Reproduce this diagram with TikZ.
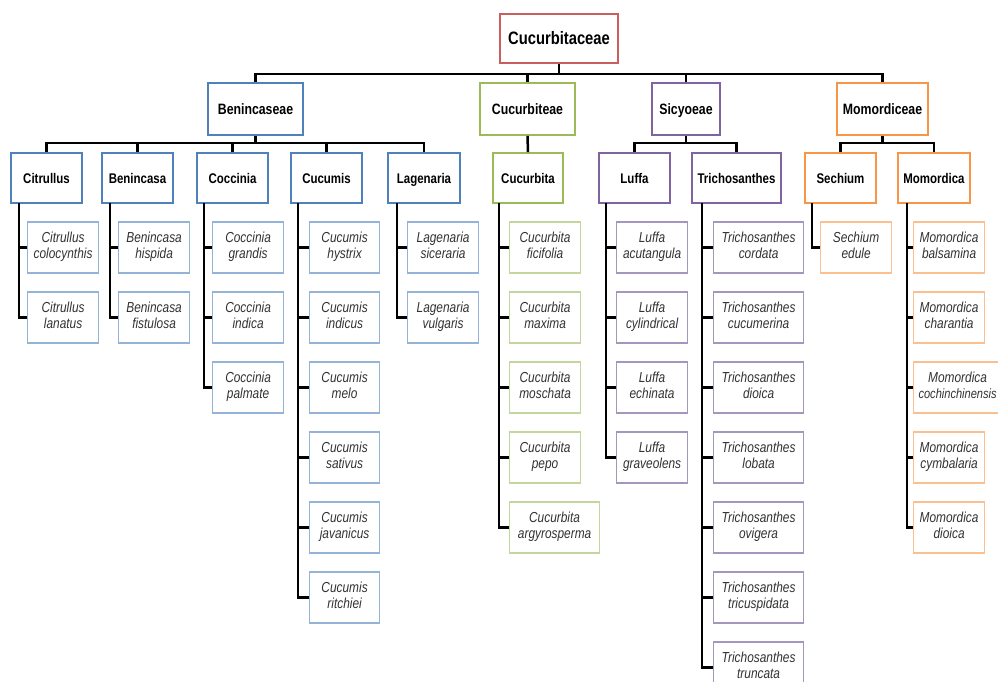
\documentclass[tikz,border=0pt]{standalone}
\usepackage{fontspec}
\setmainfont{Liberation Sans}[FakeStretch=0.82]
\definecolor{rootc}{RGB}{200,95,95}
\definecolor{bluec}{RGB}{79,129,189}
\definecolor{greenc}{RGB}{155,187,89}
\definecolor{purplec}{RGB}{128,100,162}
\definecolor{orangec}{RGB}{247,150,70}
\definecolor{bluel}{RGB}{149,179,215}
\definecolor{greenl}{RGB}{195,214,155}
\definecolor{purplel}{RGB}{165,150,190}
\definecolor{orangel}{RGB}{250,192,144}
\definecolor{sptext}{RGB}{50,50,50}
\tikzset{
  box/.style={draw, fill=white, inner sep=0pt, align=center, line width=1.8pt, text=black},
  rootbox/.style={box, draw=rootc, minimum width=118pt, minimum height=49pt, text height=13pt, text depth=0pt, font=\bfseries\fontsize{18}{20}\selectfont},
  tribe/.style={box, minimum height=52pt, text height=11pt, text depth=0pt, font=\bfseries\fontsize{15}{17}\selectfont},
  genus/.style={box, minimum height=50pt, minimum width=71pt, text height=10pt, text depth=0pt, font=\bfseries\fontsize{14}{16}\selectfont},
  sp/.style={draw, fill=white, inner sep=0pt, align=center, line width=1.2pt, minimum height=51pt, text=sptext, font=\itshape\fontsize{14.5}{16}\selectfont, anchor=west},
  conn/.style={draw=black, line width=2.5pt, line join=miter},
}
\newcommand{\spcolumn}[6]{% #1 id, #2 genus word, #3 left x, #4 spine coordinate, #5 border colour, #6 list name/width
  \foreach \nm/\w [count=\i] in {#6} {
    \node[sp, draw=#5, minimum width=\w pt] (#1-\i) at (#3, {247.5+70*(\i-1)}) {\strut#2\\\strut\nm};
    \draw[conn] (#1-\i.west) -| (#4);
  }}
\begin{document}
\begin{tikzpicture}[x=1pt, y=-1pt]
\useasboundingbox (0,0) rectangle (998,682);
% root
\node[rootbox] (root) at (559,38.5) {Cucurbitaceae};
% tribes
\node[tribe, draw=bluec, minimum width=95pt] (t1) at (255.5,109) {Benincaseae};
\node[tribe, draw=greenc, minimum width=95pt] (t2) at (527.5,109) {Cucurbiteae};
\node[tribe, draw=purplec, minimum width=68pt] (t3) at (686,109) {Sicyoeae};
\node[tribe, draw=orangec, minimum width=91pt] (t4) at (882.5,109) {Momordiceae};
\coordinate (rb) at (559,74);
\draw[conn] (root.south) -- (rb);
\foreach \t in {t1,t2,t3,t4} {\draw[conn] (\t.north) |- (rb);}
% genera
\node[genus, draw=bluec] (g1) at (46.5,178) {Citrullus};
\node[genus, draw=bluec] (g2) at (137.5,178) {Benincasa};
\node[genus, draw=bluec] (g3) at (232.5,178) {Coccinia};
\node[genus, draw=bluec] (g4) at (326.5,178) {Cucumis};
\node[genus, draw=bluec, minimum width=72pt] (g5) at (424,178) {Lagenaria};
\node[genus, draw=greenc, minimum width=70pt] (g6) at (528,178) {Cucurbita};
\node[genus, draw=purplec] (g7) at (634.5,178) {Luffa};
\node[genus, draw=purplec, minimum width=89pt] (g8) at (736.5,178) {Trichosanthes};
\node[genus, draw=orangec] (g9) at (840.5,178) {Sechium};
\node[genus, draw=orangec, minimum width=72pt] (g10) at (934,178) {Momordica};
% tribe to genus connectors
\coordinate (b1) at (255.5,143);
\draw[conn] (t1.south) -- (b1);
\foreach \g in {g1,g2,g3,g4,g5} {\draw[conn] (\g.north) |- (b1);}
\draw[conn] (t2.south) -- (g6.north);
\coordinate (b3) at (686,143);
\draw[conn] (t3.south) -- (b3);
\foreach \g in {g7,g8} {\draw[conn] (\g.north) |- (b3);}
\coordinate (b4) at (882.5,143);
\draw[conn] (t4.south) -- (b4);
\foreach \g in {g9,g10} {\draw[conn] (\g.north) |- (b4);}
% spine tops at genus bottoms
\coordinate (c1) at (19,203);
\coordinate (c2) at (110,203);
\coordinate (c3) at (204,203);
\coordinate (c4) at (298,203);
\coordinate (c5) at (397,203);
\coordinate (c6) at (499,203);
\coordinate (c7) at (606,203);
\coordinate (c8) at (702,203);
\coordinate (c9) at (812,203);
\coordinate (c10) at (907,203);
% species
\spcolumn{s1}{Citrullus}{27}{c1}{bluel}{colocynthis/71, lanatus/71}
\spcolumn{s2}{Benincasa}{118}{c2}{bluel}{hispida/71, fistulosa/71}
\spcolumn{s3}{Coccinia}{212}{c3}{bluel}{grandis/71, indica/71, palmate/71}
\spcolumn{s4}{Cucumis}{309}{c4}{bluel}{hystrix/70, indicus/70, melo/70, sativus/70, javanicus/70, ritchiei/70}
\spcolumn{s5}{Lagenaria}{407}{c5}{bluel}{siceraria/71, vulgaris/71}
\spcolumn{s6}{Cucurbita}{509}{c6}{greenl}{ficifolia/71, maxima/71, moschata/71, pepo/71, argyrosperma/90}
\spcolumn{s7}{Luffa}{616}{c7}{purplel}{acutangula/71, cylindrical/71, echinata/71, graveolens/71}
\spcolumn{s8}{Trichosanthes}{713}{c8}{purplel}{cordata/90, cucumerina/90, dioica/90, lobata/90, ovigera/90, tricuspidata/90, truncata/90}
\spcolumn{s9}{Sechium}{820}{c9}{orangel}{edule/71}
\spcolumn{s10}{Momordica}{913}{c10}{orangel}{balsamina/71, charantia/71, {\fontsize{13.5}{16}\selectfont cochinchinensis}/88, cymbalaria/71, dioica/71}
\end{tikzpicture}
\end{document}
